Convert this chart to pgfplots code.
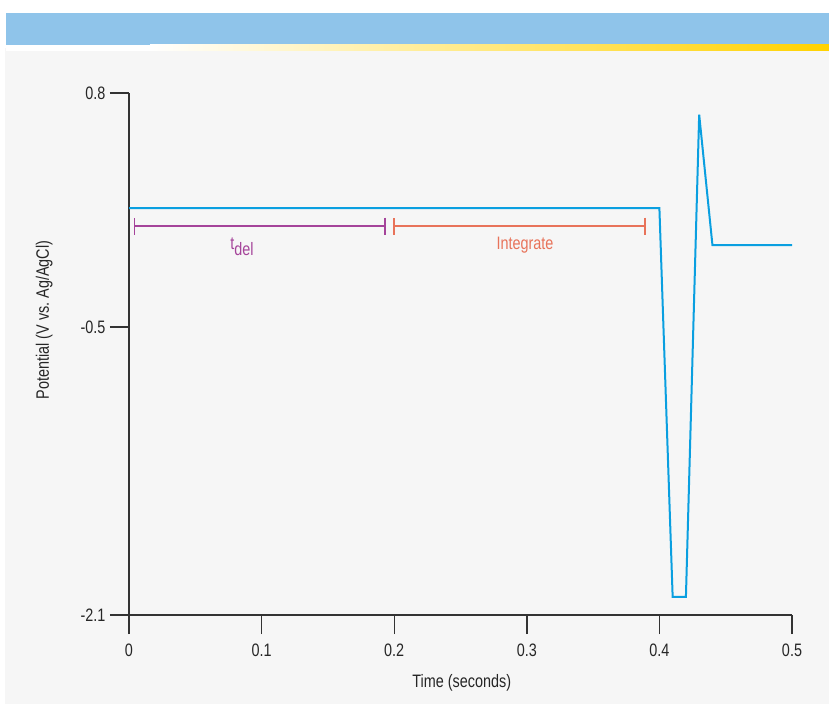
\documentclass[border=0pt]{standalone}
\usepackage{fontspec}
\setmainfont{Liberation Sans}[FakeStretch=0.8]
\usepackage{pgfplots}
\pgfplotsset{compat=1.18}
\usetikzlibrary{arrows.meta}
\definecolor{bg}{HTML}{F6F6F6}
\definecolor{banner}{HTML}{8FC4EA}
\definecolor{sun}{HTML}{FFD200}
\definecolor{trace}{HTML}{0A9FE0}
\definecolor{tdel}{HTML}{A5449A}
\definecolor{integ}{HTML}{E8735A}
\definecolor{axisc}{HTML}{333333}
\newcommand{\lbl}{\fontsize{18bp}{20bp}\selectfont}
\begin{document}
\begin{tikzpicture}
\fill[white] (0bp,0bp) rectangle (829bp,706bp);
\fill[bg] (5bp,2bp) rectangle (829bp,658bp);
\fill[banner] (6bp,661bp) rectangle (829bp,693bp);
\fill[white] (6bp,655bp) rectangle (150bp,661bp);
\shade[left color=white, right color=sun] (150bp,655bp) rectangle (829bp,661bp);
\begin{axis}[
  at={(129bp,91bp)}, anchor=south west,
  scale only axis, width=663bp, height=522bp,
  xmin=0, xmax=0.5, ymin=-2.1, ymax=0.8,
  axis lines=left,
  axis line style={-, draw=axisc, line width=1.4bp},
  tick style={draw=axisc, line width=1.4bp},
  tick align=outside, major tick length=19bp,
  xtick={0,0.1,0.2,0.3,0.4,0.5},
  xticklabels={0,0.1,0.2,0.3,0.4,0.5},
  ytick={-2.1,-0.5,0.8},
  yticklabels={-2.1,-0.5,0.8},
  tick label style={font=\lbl, text=black!85},
  xticklabel style={yshift=-6bp},
  yticklabel style={xshift=-1bp},
  xlabel={Time (seconds)},
  ylabel={Potential (V vs.\ Ag/AgCl)},
  xlabel style={at={(axis description cs:0.502,-0.130)}, anchor=center, font=\lbl, text=black!85},
  ylabel style={at={(axis description cs:-0.128,0.565)}, anchor=center, font=\lbl, text=black!85},
  clip=false,
]
\addplot[trace, line width=2bp, no marks] coordinates {
  (0,0.16) (0.4,0.16) (0.41,-2.0) (0.42,-2.0) (0.43,0.68) (0.44,-0.045) (0.5,-0.045)
};
\draw[tdel, line width=1.5bp, {Bar[width=17bp]}-{Bar[width=17bp]}] (axis cs:0.0035,0.061) -- (axis cs:0.1938,0.061);
\draw[integ, line width=1.5bp, {Bar[width=17bp]}-{Bar[width=17bp]}] (axis cs:0.1993,0.061) -- (axis cs:0.3897,0.061);
\node[tdel, font=\lbl, anchor=base, inner sep=0pt] at (axis cs:0.0852,-0.072) {t\raisebox{-6bp}{del}};
\node[integ, font=\lbl, anchor=base, inner sep=0pt] at (axis cs:0.2986,-0.067) {Integrate};
\end{axis}
\pgfresetboundingbox
\path[use as bounding box] (0bp,0bp) rectangle (829bp,706bp);
\end{tikzpicture}
\end{document}
